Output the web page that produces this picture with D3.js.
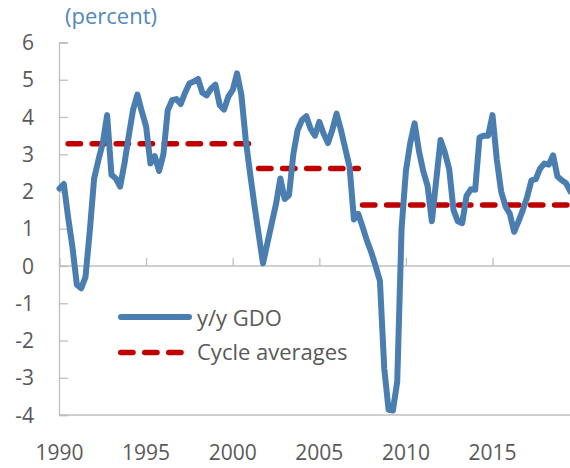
<!DOCTYPE html>
<html>
<head>
<meta charset="utf-8">
<script src="https://cdn.jsdelivr.net/npm/d3@7"></script>
<style>
  html, body { margin: 0; padding: 0; background: #fff; }
  svg { display: block; font-family: "Open Sans", "Noto Sans", sans-serif; }
</style>
</head>
<body>
<div id="chart"></div>
<script>
// ---- data ----
const startYear = 1990;            // first quarter = 1990Q1, quarterly series
const gdo = [2.08, 2.2, 1.3, 0.5, -0.5, -0.6, -0.3, 0.95, 2.35, 2.85,
  3.3, 4.05, 2.45, 2.35, 2.13, 2.75, 3.5, 4.2, 4.6, 4.15,
  3.75, 2.75, 2.95, 2.55, 3.0, 4.18, 4.45, 4.48, 4.35, 4.65,
  4.9, 4.95, 5.02, 4.65, 4.58, 4.76, 4.87, 4.32, 4.2, 4.55,
  4.72, 5.17, 4.6, 3.4, 2.5, 1.65, 0.85, 0.07, 0.61, 1.14,
  1.66, 2.35, 1.8, 1.9, 3.0, 3.65, 3.92, 4.02, 3.68, 3.5,
  3.87, 3.55, 3.3, 3.65, 4.09, 3.65, 3.15, 2.65, 1.25, 1.4,
  1.05, 0.68, 0.37, 0.0, -0.4, -2.75, -3.86, -3.88, -3.1, 1.0,
  2.55, 3.3, 3.83, 3.1, 2.55, 2.15, 1.2, 2.3, 3.38, 3.05,
  2.6, 1.5, 1.2, 1.15, 1.88, 2.06, 2.05, 3.45, 3.5, 3.5,
  4.05, 2.85, 2.0, 1.6, 1.4, 0.92, 1.2, 1.5, 1.85, 2.3,
  2.33, 2.62, 2.75, 2.72, 2.97, 2.4, 2.3, 2.22, 2.0];
const cycleStart = ["1990Q3", "2001Q3", "2007Q3"];
const cycleEnd   = ["2001Q1", "2007Q2", "2019Q3"];
const cycleAvg   = [3.28, 2.62, 1.64];
const yTicks = [-4, -3, -2, -1, 0, 1, 2, 3, 4, 5, 6];
const xTickYears = [1990, 1995, 2000, 2005, 2010, 2015];
const legendLabels = ["y/y GDO", "Cycle averages"];
const unitLabel = "(percent)";

// ---- helpers ----
const qToT = s => +s.slice(0, 4) + (+s.slice(5) - 1) / 4;
const series = gdo.map((v, i) => ({ t: startYear + i / 4, v }));
const cycles = cycleAvg.map((v, i) => ({ t0: qToT(cycleStart[i]), t1: qToT(cycleEnd[i]), v }));

const W = 570, H = 468;
const blue = "#4a7eb0", red = "#c00000", grey = "#595959", axisCol = "#bfbfbf";

const x = d3.scaleLinear().domain([1990, 2020]).range([59.5, 59.5 + 30 * 17.32]);
const y = d3.scaleLinear().domain([-4, 6]).range([415, 42.5]);

const svg = d3.select("#chart").append("svg").attr("width", W).attr("height", H);

// unit label
svg.append("text").attr("x", 65).attr("y", 24)
  .attr("font-size", 22).attr("fill", "#4f88bd").text(unitLabel);

// y axis
const yAxis = d3.axisRight(y).tickValues(yTicks).tickSize(9).tickFormat("");
const gy = svg.append("g").attr("transform", "translate(59,0)").call(yAxis);
gy.select(".domain").attr("stroke", axisCol).attr("stroke-width", 1.3);
gy.selectAll(".tick line").attr("stroke", axisCol).attr("stroke-width", 1.3);

svg.append("g").selectAll("text").data(yTicks).join("text")
  .attr("x", 34).attr("y", d => y(d)).attr("dy", "0.36em")
  .attr("text-anchor", "end").attr("font-size", 21).attr("fill", grey)
  .text(d => d);

// bottom line at -4
svg.append("line").attr("x1", 59).attr("x2", W).attr("y1", y(-4)).attr("y2", y(-4))
  .attr("stroke", axisCol).attr("stroke-width", 1.3);

// zero axis with ticks pointing up
const xAxis = d3.axisTop(x).tickValues(xTickYears).tickSize(8).tickFormat("");
const gx = svg.append("g").attr("transform", `translate(0,${y(0)})`).call(xAxis);
gx.select(".domain").remove();
gx.selectAll(".tick line").attr("stroke", axisCol).attr("stroke-width", 1.3);
svg.append("line").attr("x1", 59).attr("x2", W).attr("y1", y(0)).attr("y2", y(0))
  .attr("stroke", axisCol).attr("stroke-width", 1.3);

// x labels at bottom
svg.append("g").selectAll("text").data(xTickYears).join("text")
  .attr("x", d => x(d)).attr("y", 460)
  .attr("text-anchor", "middle").attr("font-size", 21).attr("fill", grey)
  .text(d => d);

// cycle averages
svg.append("g").selectAll("line").data(cycles).join("line")
  .attr("x1", d => x(d.t0)).attr("x2", d => x(d.t1))
  .attr("y1", d => y(d.v)).attr("y2", d => y(d.v))
  .attr("stroke", red).attr("stroke-width", 5.5)
  .attr("stroke-dasharray", "12.3,11.7").attr("stroke-linecap", "round");

// GDO line
const line = d3.line().x(d => x(d.t)).y(d => y(d.v));
svg.append("path").datum(series).attr("d", line)
  .attr("fill", "none").attr("stroke", blue).attr("stroke-width", 6)
  .attr("stroke-linejoin", "round").attr("stroke-linecap", "round");

// legend
const lg = svg.append("g");
lg.append("line").attr("x1", 121).attr("x2", 189).attr("y1", 317).attr("y2", 317)
  .attr("stroke", blue).attr("stroke-width", 6).attr("stroke-linecap", "round");
lg.append("line").attr("x1", 120.7).attr("x2", 181).attr("y1", 352.5).attr("y2", 352.5)
  .attr("stroke", red).attr("stroke-width", 5.5).attr("stroke-linecap", "round")
  .attr("stroke-dasharray", "12.3,11.7");
lg.selectAll("text").data(legendLabels).join("text")
  .attr("x", 197).attr("y", (d, i) => [326, 359.5][i])
  .attr("font-size", 22).attr("fill", grey).text(d => d);
</script>
</body>
</html>
